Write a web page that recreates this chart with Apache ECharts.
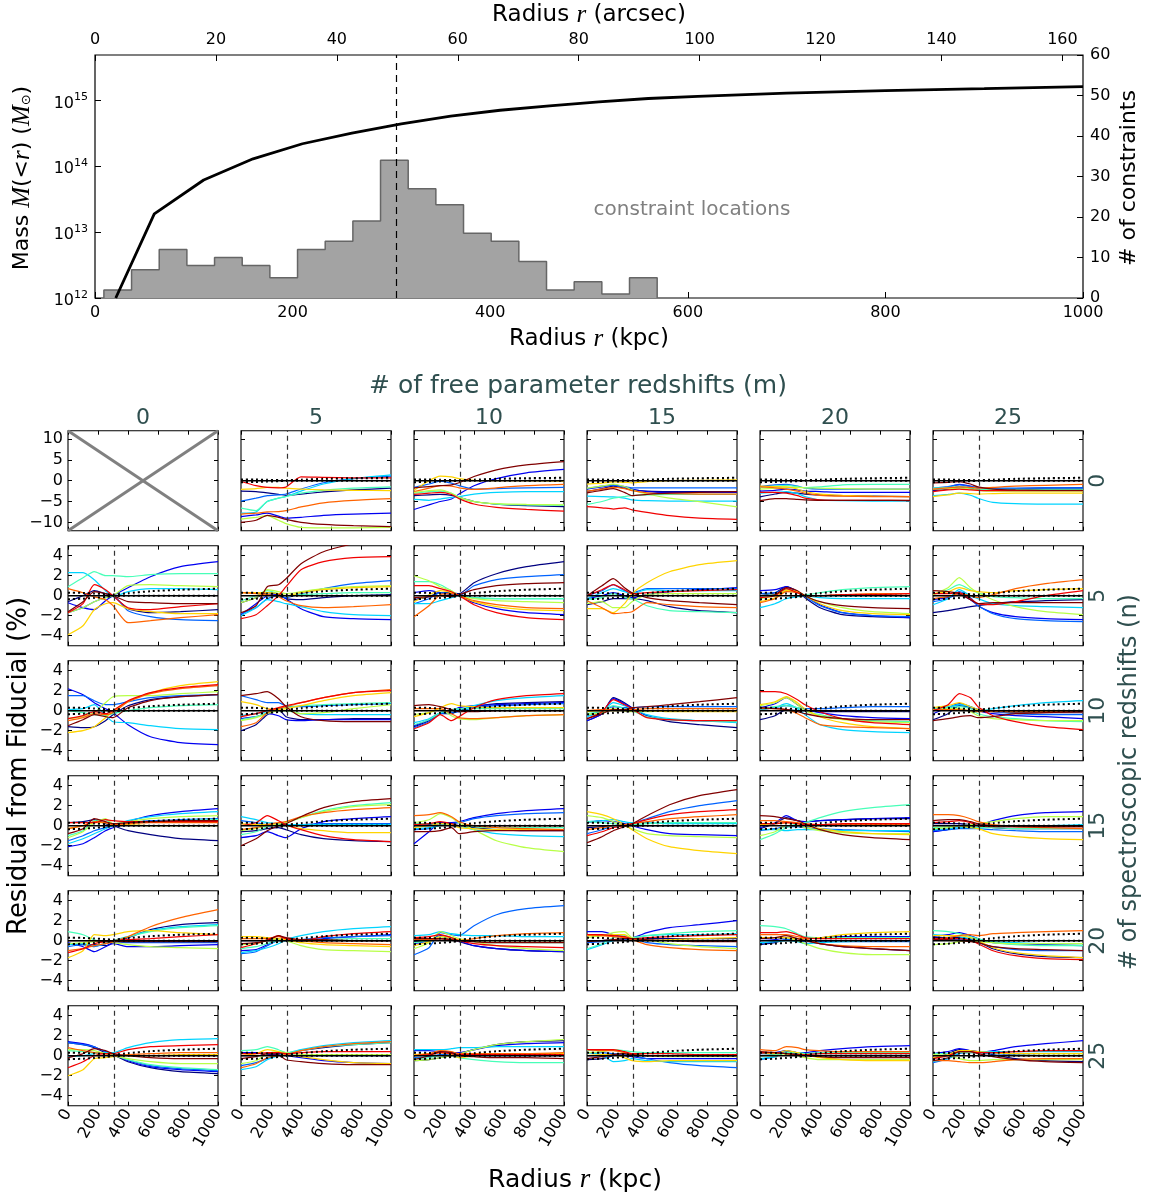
<!DOCTYPE html>
<html><head><meta charset="utf-8">
<script src="https://cdn.jsdelivr.net/npm/echarts@6/dist/echarts.min.js"></script>
<style>html,body{margin:0;padding:0;background:#fff}#c{width:1153px;height:1197px}</style>
</head><body><div id="c"></div>
<script>
// ---------------- Top panel data ----------------
const massR = [21, 60, 110, 160, 210, 260, 310, 360, 410, 460, 510, 560, 610, 700, 800, 900, 1000];
const massM = [1e12, 1.9e13, 6.2e13, 1.3e14, 2.2e14, 3.2e14, 4.4e14, 5.8e14, 7.1e14, 8.3e14, 9.5e14, 1.07e15, 1.15e15, 1.29e15, 1.41e15, 1.51e15, 1.62e15];
const histEdges = [9, 37, 65, 93, 121, 149, 177, 205, 233, 261, 289, 317, 345, 373, 401, 429, 457, 485, 513, 541, 569];
const histCounts = [2, 7, 12, 8, 10, 8, 5, 12, 14, 19, 34, 27, 23, 16, 14, 9, 2, 4, 1, 5];
const fiducialR = 305;          // kpc (50 arcsec)
const kpcPerArcsec = 6.12;
const massTicks = [1e12, 1e13, 1e14, 1e15];
const massTickExp = [12, 13, 14, 15];
const massMax = 4.9e15;

// ---------------- Grid panels data ----------------
const colM = [0, 5, 10, 15, 20, 25];   // free parameter redshifts
const rowN = [0, 5, 10, 15, 20, 25];   // spectroscopic redshifts
const rKpc = [0, 100, 175, 250, 300, 400, 550, 750, 1000];
const dotUpper = [0.3, 0.28, 0.22, 0.15, 0.12, 0.25, 0.45, 0.6, 0.7];
const dotLower = [-0.35, -0.3, -0.22, -0.12, -0.05, 0, 0, 0, 0];
const noFitR = [0, 1000];
const noFitA = [12, -12];
const noFitB = [-12, 12];
// line order: navy, blue, azure, cyan, aquamarine, green-yellow, yellow, orange, red, dark red
const res_n0_m5 = [
[-2.5,-2.6,-2.9,-3.3,-3.5,-3.2,-2.7,-2.2,-1.8],[-8.6,-8.2,-7.8,-8.5,-9.0,-8.8,-8.3,-8.0,-7.8],[-4.9,-4.2,-3.6,-3.4,-3.2,-2.0,-0.5,0.5,1.1],[-7.8,-7.5,-5.0,-4.2,-3.8,-2.5,-0.8,0.5,1.4],[-6.6,-7.2,-5.0,-4.2,-3.8,-3.0,-2.3,-1.8,-1.5],
[-9.2,-8.8,-8.4,-9.5,-10.3,-11.2,-11.3,-11.3,-11.2],[-2.1,-1.9,-1.6,-1.6,-1.8,-2.0,-2.2,-2.3,-2.4],[-8.0,-7.8,-7.5,-7.4,-7.2,-6.3,-5.3,-4.7,-4.3],[-0.2,-1.2,-1.6,-1.7,-1.5,0.9,0.8,0.7,0.7],[-10.0,-9.5,-8.3,-8.8,-9.3,-10.0,-10.5,-10.8,-11.0]];
const res_n0_m10 = [
[-3.6,-3.4,-3.3,-3.5,-4.0,-5.0,-5.6,-6.0,-6.2],[-6.9,-5.8,-5.0,-4.4,-3.2,-1.2,0.5,1.9,2.7],[-1.6,-0.8,-0.1,-0.6,-1.2,-2.0,-1.9,-1.7,-1.6],[-4.5,-4.7,-4.4,-4.0,-3.8,-3.2,-2.8,-2.6,-2.6],[-3.0,-2.6,-2.5,-3.0,-4.0,-5.0,-5.6,-5.8,-5.9],
[-2.8,-2.4,-2.2,-3.0,-4.0,-5.0,-5.5,-5.7,-5.8],[-2.3,0.0,1.1,0.9,0.5,0.1,0.0,0.0,-0.1],[-2.6,-1.8,-1.2,-1.3,-1.7,-2.1,-1.7,-1.2,-0.9],[-3.3,-3.0,-2.8,-3.3,-4.3,-5.6,-6.4,-6.9,-7.3],[-1.7,-1.4,-1.2,-1.0,-0.5,1.0,2.6,3.8,4.6]];
const res_n0_m15 = [
[-2.6,-1.9,-1.3,-1.8,-2.2,-2.5,-2.6,-2.6,-2.6],[-2.0,-1.5,-1.0,-1.5,-2.0,-2.6,-2.8,-2.8,-2.8],[-1.9,-1.3,-1.1,-1.4,-1.7,-1.7,-1.7,-1.7,-1.7],[-3.7,-3.8,-3.9,-4.2,-4.6,-4.8,-4.9,-4.9,-4.9],[-5.7,-5.0,-4.2,-3.8,-3.6,-3.4,-3.3,-3.3,-3.3],
[-1.8,-1.3,-0.8,-1.4,-2.2,-3.2,-4.2,-5.0,-6.3],[-0.8,-0.6,-0.3,-0.4,-0.5,-0.2,0.0,0.1,0.2],[-2.5,-2.0,-1.6,-1.9,-2.4,-2.9,-3.1,-3.2,-3.2],[-6.2,-6.5,-6.8,-6.5,-7.0,-7.6,-8.4,-9.0,-9.3],[-2.9,-2.3,-1.9,-2.8,-3.6,-3.3,-3.0,-2.8,-2.6]];
const res_n0_m20 = [
[-3.9,-3.2,-2.8,-3.0,-3.2,-3.4,-3.6,-3.7,-3.8],[-2.5,-2.3,-2.0,-2.2,-2.5,-2.6,-2.8,-2.8,-2.8],[-1.4,-1.0,-0.9,-1.3,-1.8,-2.0,-2.0,-2.0,-2.0],[-3.0,-2.8,-2.6,-3.1,-3.8,-4.6,-4.8,-4.9,-4.9],[-1.6,-1.3,-1.1,-1.4,-1.7,-1.5,-1.0,-0.9,-0.9],
[-2.0,-1.8,-1.6,-1.6,-1.7,-1.8,-1.9,-2.0,-2.0],[-1.3,-1.4,-1.5,-2.0,-2.6,-3.2,-3.5,-3.7,-3.8],[-1.5,-1.7,-2.0,-2.5,-3.0,-3.5,-3.7,-3.8,-3.8],[-2.8,-2.8,-3.0,-3.6,-4.2,-4.6,-4.7,-4.7,-4.8],[-4.8,-4.3,-4.3,-4.5,-4.6,-4.7,-4.7,-4.7,-4.7]];
const res_n0_m25 = [
[-2.4,-2.0,-1.5,-1.8,-2.0,-2.0,-1.9,-1.8,-1.7],[-2.2,-1.6,-0.9,-1.3,-1.8,-1.9,-1.9,-1.8,-1.8],[-1.8,-1.4,-1.0,-1.4,-1.7,-1.8,-1.8,-1.7,-1.7],[-3.6,-3.3,-3.0,-3.5,-4.2,-5.2,-5.5,-5.6,-5.6],[-1.8,-1.6,-1.4,-1.7,-2.0,-2.1,-2.1,-2.1,-2.1],
[-2.0,-1.9,-1.8,-2.0,-2.3,-2.5,-2.5,-2.5,-2.5],[-3.8,-3.4,-3.0,-3.1,-3.2,-3.1,-3.0,-3.0,-3.0],[-2.0,-1.7,-1.5,-1.6,-1.8,-1.6,-1.3,-1.1,-0.9],[-2.6,-2.2,-2.0,-2.2,-2.3,-2.4,-2.4,-2.4,-2.4],[-0.5,-0.4,-0.2,-0.8,-1.5,-2.0,-2.2,-2.3,-2.3]];
const res_n5_m0 = [
[-0.6,0.0,0.5,0.2,0.0,-1.3,-1.7,-1.6,-1.4],[-0.7,-1.2,-1.4,-0.5,0.0,0.8,1.9,2.9,3.4],[-1.7,-1.2,-0.6,-0.2,0.0,-1.5,-2.1,-2.4,-2.5],[2.3,2.3,1.6,0.5,-0.1,0.4,0.7,0.7,0.6],[0.9,1.8,2.4,2.0,2.0,1.9,2.1,2.2,2.2],
[-1.7,-1.2,-0.6,-0.2,0.0,1.0,1.1,1.0,0.9],[-3.9,-3.0,-1.4,-0.8,-0.7,-1.3,-1.6,-1.8,-1.8],[0.7,0.3,-0.1,-0.4,-1.0,-2.7,-2.5,-2.2,-1.9],[-1.7,-0.8,1.1,0.6,0.0,-1.2,-1.4,-1.1,-0.8],[-1.6,-0.6,0.4,0.2,0.0,-0.6,-0.7,-0.8,-0.8]];
const res_n5_m5 = [
[-0.7,-0.2,0.3,0.1,-0.3,-0.4,-0.2,0.0,0.1],[-1.9,-0.8,0.0,0.1,-0.3,-1.3,-2.1,-2.3,-2.4],[-1.8,-1.2,-0.3,0.0,-0.2,0.2,0.7,1.2,1.5],[-2.0,-1.2,-0.4,-0.6,-0.8,-1.1,-1.6,-1.9,-2.0],[-0.5,0.0,0.5,0.2,0.0,0.1,0.2,0.3,0.3],
[-0.7,-0.2,0.6,0.4,0.2,0.4,0.7,0.9,1.0],[0.3,0.3,0.3,0.2,0.0,0.3,0.6,0.8,0.9],[0.3,0.2,0.1,-0.1,-0.5,-1.0,-1.2,-1.1,-0.9],[-2.3,-1.9,-1.0,0.0,0.9,2.6,3.4,3.8,3.9],[-1.7,-1.0,0.9,1.1,1.7,3.2,4.4,5.2,5.6]];
const res_n5_m10 = [
[-0.4,-0.1,0.3,0.3,0.2,1.3,2.2,2.9,3.4],[0.3,0.5,0.3,0.1,0.0,-0.7,-1.3,-1.7,-1.9],[-0.8,-0.3,0.3,0.2,0.0,1.0,1.6,1.9,2.1],[-0.8,-0.8,-0.5,-0.2,0.0,-0.2,-0.3,-0.3,-0.3],[1.4,1.4,1.1,0.5,0.0,-0.2,-0.3,-0.3,-0.3],
[2.0,1.5,0.9,0.5,0.0,-0.3,-0.5,-0.6,-0.7],[-0.6,0.1,0.5,0.3,0.0,-0.6,-1.1,-1.4,-1.5],[-2.1,-1.0,0.1,0.2,0.0,-0.5,-0.9,-1.2,-1.3],[1.0,1.0,0.7,0.4,0.0,-0.9,-1.7,-2.2,-2.4],[-0.2,-0.1,0.0,-0.1,0.1,0.6,1.0,1.2,1.3]];
const res_n5_m15 = [
[-0.9,-0.6,-0.3,-0.3,-0.3,-0.5,-1.1,-1.5,-1.7],[-0.3,0.0,0.3,0.0,-0.2,0.1,0.4,0.6,0.8],[0.0,0.5,1.1,0.5,0.3,0.7,0.7,0.7,0.7],[-0.3,0.3,0.7,0.4,0.2,0.6,0.5,0.5,0.5],[-0.4,-0.2,0.2,-0.2,-0.3,-1.0,-1.5,-1.6,-1.7],
[-0.8,-0.6,-1.2,-1.2,-0.6,0.1,0.2,0.2,0.2],[-1.3,-1.3,-1.7,-0.8,0.2,1.3,2.4,3.1,3.5],[-0.5,-1.2,-1.8,-1.7,-1.6,-0.7,-0.9,-1.1,-1.2],[0.0,0.6,1.1,0.6,0.2,0.3,0.4,0.5,0.6],[0.0,1.0,1.7,0.8,0.3,-0.2,-0.5,-0.7,-0.9]];
const res_n5_m20 = [
[0.0,0.3,0.9,0.4,-0.2,-1.2,-1.9,-2.1,-2.2],[0.5,0.6,0.9,0.4,0.0,-0.9,-1.7,-2.0,-2.2],[0.2,0.3,0.7,0.3,-0.1,-1.0,-1.7,-2.0,-2.1],[-1.2,-0.8,-0.3,-0.1,0.0,-0.2,-0.3,-0.3,-0.3],[0.0,0.1,0.5,0.3,0.1,0.3,0.6,0.8,0.9],
[-0.3,0.0,0.6,0.4,0.0,-0.6,-1.2,-1.6,-1.8],[-0.6,-0.2,0.5,0.4,0.0,-0.8,-1.5,-1.8,-1.9],[-0.7,-0.3,0.4,0.3,0.0,0.0,0.1,0.2,0.2],[-0.2,0.0,0.7,0.3,0.0,0.0,0.1,0.1,0.2],[0.0,0.1,0.8,0.5,0.0,-0.6,-1.0,-1.2,-1.3]];
const res_n5_m25 = [
[-1.7,-1.5,-1.3,-1.1,-1.0,-0.8,-0.6,-0.5,-0.4],[-0.4,-0.2,0.1,-0.4,-1.0,-1.7,-2.1,-2.3,-2.4],[-0.6,-0.3,0.4,-0.2,-1.0,-1.8,-2.3,-2.5,-2.6],[-0.9,-0.3,0.6,0.0,-0.3,-0.8,-1.0,-1.1,-1.2],[0.1,0.6,1.1,0.6,0.3,-0.1,-0.2,-0.3,-0.3],
[0.1,0.8,1.8,0.8,0.3,-0.4,-1.1,-1.6,-1.9],[0.2,0.4,0.8,0.5,0.4,0.3,0.5,0.6,0.7],[-0.3,-0.1,0.2,0.0,-0.2,0.1,0.7,1.2,1.6],[0.2,0.2,0.3,-0.3,-0.8,-0.9,-0.6,0.0,0.5],[0.5,0.4,0.2,-0.4,-0.8,-0.7,-0.7,-0.7,-0.7]];
const res_n10_m0 = [
[-1.6,-1.7,-1.6,-1.0,-0.4,0.5,1.1,1.4,1.6],[2.2,1.6,0.8,0.2,-0.2,-1.4,-2.6,-3.2,-3.4],[1.5,1.5,1.0,0.6,0.6,0.9,1.3,1.5,1.6],[0.1,0.2,0.6,-0.5,-1.1,-1.2,-1.5,-1.8,-1.9],[0.0,-0.2,-0.4,-0.5,-0.3,0.0,0.3,0.5,0.6],
[-0.8,-0.6,-0.2,0.8,1.4,1.5,1.5,1.7,1.9],[-2.2,-2.0,-1.6,-0.7,0.0,0.9,1.8,2.5,2.9],[-1.0,-0.7,-0.3,-0.4,-0.2,0.9,1.7,2.2,2.5],[-0.8,-0.5,-0.1,-0.3,0.0,1.0,1.8,2.3,2.6],[-1.5,-0.9,-0.4,-0.6,-0.7,0.3,1.0,1.4,1.6]];
const res_n10_m5 = [
[-2.0,-1.4,-0.4,0.1,-0.6,-0.9,-0.9,-0.8,-0.8],[-0.8,-0.6,-0.3,-0.5,-0.9,-1.0,-0.9,-0.9,-0.9],[1.5,1.1,0.8,0.8,0.5,0.4,0.5,0.6,0.7],[-0.5,-0.3,-0.1,0.0,0.0,-0.3,-0.4,-0.4,-0.4],[-0.9,-0.6,-0.2,0.2,0.3,0.5,0.6,0.7,0.8],
[-1.0,-0.7,-0.3,0.0,0.0,-0.3,-0.2,0.2,0.6],[0.9,0.6,0.2,0.1,0.2,0.5,1.0,1.5,1.8],[-1.6,-1.2,-0.2,0.2,0.4,0.8,1.3,1.8,2.1],[-0.6,-0.3,0.0,0.3,0.5,0.8,1.3,1.8,2.0],[1.5,1.7,1.9,1.2,0.4,-0.6,-1.0,-1.1,-1.1]];
const res_n10_m10 = [
[-1.6,-1.0,-0.3,-0.3,0.0,0.4,0.7,0.8,0.9],[-1.5,-0.9,-0.2,0.0,0.3,0.5,0.6,0.7,0.8],[-1.7,-1.1,-0.3,-0.2,-0.1,0.3,0.5,0.6,0.7],[-1.2,-0.8,-0.2,0.0,0.1,0.5,1.0,1.3,1.5],[-1.4,-0.9,-0.2,0.1,0.2,0.2,0.2,0.2,0.2],
[-0.4,-0.2,0.1,-0.5,-0.8,-0.9,-0.7,-0.5,-0.4],[-0.6,-0.2,0.3,0.7,0.5,0.4,0.3,0.3,0.3],[0.2,0.2,0.2,-0.3,-0.7,-0.8,-0.7,-0.5,-0.4],[-1.8,-1.2,-0.4,-1.0,-0.6,0.3,1.1,1.5,1.7],[0.5,0.6,0.4,0.1,-0.1,-0.1,0.0,0.0,0.0]];
const res_n10_m15 = [
[-1.0,-0.3,1.3,0.8,0.3,-0.5,-1.1,-1.4,-1.7],[-1.0,-0.3,1.2,0.7,0.3,-0.5,-0.9,-1.0,-1.1],[-0.5,0.0,0.4,0.3,0.3,0.4,0.4,0.4,0.4],[-0.6,-0.1,0.8,0.5,0.2,-0.4,-0.8,-1.0,-1.2],[-0.3,0.0,0.5,0.2,0.0,-0.6,-0.9,-1.0,-1.1],
[-0.4,-0.2,0.2,0.0,-0.1,-0.1,0.0,0.0,0.0],[-0.1,0.0,0.0,0.0,0.0,0.0,-0.1,-0.1,-0.1],[0.0,0.1,0.1,0.1,0.1,0.2,0.2,0.2,0.2],[-0.8,-0.1,1.1,0.6,0.2,-0.7,-0.9,-1.0,-1.0],[-0.8,-0.3,0.1,0.1,0.3,0.4,0.6,0.9,1.3]];
const res_n10_m20 = [
[-0.9,-0.5,0.1,0.0,0.0,-0.1,-0.1,-0.1,-0.1],[0.3,0.7,1.3,0.6,0.1,-0.2,-0.5,-0.7,-0.8],[0.1,0.3,0.5,0.3,0.2,0.2,0.3,0.4,0.4],[0.1,0.3,0.7,0.2,-0.4,-1.4,-1.9,-2.1,-2.2],[0.2,0.4,0.5,0.3,0.0,-0.4,-0.8,-1.0,-1.1],
[0.5,0.8,1.3,0.6,0.0,-0.5,-0.9,-1.1,-1.2],[0.6,0.9,1.4,0.8,0.2,-0.6,-1.2,-1.6,-1.8],[0.2,0.2,0.1,-0.3,-0.7,-1.4,-1.6,-1.7,-1.8],[1.9,1.9,1.7,1.1,0.6,-0.1,-0.8,-1.2,-1.4],[0.3,0.2,0.1,-0.1,-0.3,-0.6,-0.8,-0.9,-0.9]];
const res_n10_m25 = [
[-0.9,-0.3,0.5,0.3,0.1,-0.1,-0.2,-0.2,-0.2],[-0.3,0.3,0.7,0.4,0.0,-0.3,-0.5,-0.6,-0.8],[0.0,0.2,0.6,0.4,0.1,-0.1,-0.3,-0.4,-0.4],[0.2,0.4,0.6,0.4,0.0,0.2,0.5,0.8,1.0],[0.1,0.3,0.4,0.2,-0.3,-0.6,-0.8,-1.0,-1.1],
[0.1,0.2,0.2,-0.1,-0.5,-0.8,-0.9,-1.0,-1.0],[0.3,0.5,0.8,0.4,0.1,0.0,-0.1,-0.1,-0.1],[0.1,0.1,0.1,0.0,-0.1,-0.1,-0.1,-0.1,-0.1],[0.0,0.6,1.7,1.3,0.4,-0.5,-1.1,-1.6,-1.9],[-1.0,-0.8,-0.6,-0.5,-0.7,-0.6,-0.3,-0.2,-0.1]];
const res_n15_m0 = [
[0.3,0.4,0.6,0.2,0.0,-0.5,-0.9,-1.3,-1.5],[-2.1,-1.8,-1.2,-0.5,-0.2,0.4,1.0,1.4,1.7],[-1.5,-1.0,-0.5,-0.2,0.0,0.3,0.5,0.6,0.7],[-1.8,-1.3,-0.8,-0.3,0.0,0.5,0.9,1.2,1.4],[-1.0,-0.5,0.5,0.6,0.1,0.2,0.4,0.5,0.6],
[-1.2,-0.6,0.3,0.7,0.2,0.4,0.7,0.9,1.0],[-0.3,0.0,0.3,0.3,0.1,0.1,0.0,0.0,0.0],[-0.3,0.0,0.4,0.3,0.1,0.2,0.3,0.3,0.3],[0.3,0.3,0.3,0.6,0.5,0.4,0.4,0.4,0.4],[-0.8,-0.3,0.7,0.4,0.2,0.3,0.4,0.5,0.5]];
const res_n15_m5 = [
[-0.6,-0.5,-0.3,-0.2,-0.4,-0.9,-1.3,-1.5,-1.6],[-1.2,-1.0,-0.6,-1.0,-1.2,-0.3,0.4,0.7,0.9],[0.5,0.3,0.1,0.0,0.0,0.1,0.2,0.2,0.2],[0.9,0.6,0.3,0.2,0.1,0.1,0.1,0.1,0.1],[-0.9,-0.6,-0.1,0.1,0.3,0.8,1.5,2.0,2.3],
[-0.5,-0.3,0.0,0.2,0.3,0.8,1.4,1.9,2.1],[0.2,0.1,0.1,0.0,0.0,-0.3,-0.5,-0.7,-0.7],[-0.4,-0.2,0.1,0.3,0.4,0.9,1.3,1.6,1.8],[0.0,0.3,1.0,0.5,0.1,-0.4,-1.0,-1.4,-1.6],[-2.0,-1.3,-0.5,0.0,0.2,0.9,1.8,2.4,2.7]];
const res_n15_m10 = [
[0.0,0.1,0.3,0.2,0.0,-0.2,-0.4,-0.5,-0.5],[-1.8,-0.6,0.3,0.3,0.4,0.8,1.2,1.5,1.7],[-0.4,-0.3,0.1,0.2,0.3,0.7,1.0,1.2,1.3],[-0.3,-0.2,0.0,0.1,0.0,-0.4,-0.8,-1.0,-1.1],[0.2,0.2,0.2,0.1,0.0,-0.1,-0.2,-0.2,-0.2],
[0.3,0.6,1.2,0.8,0.3,-0.4,-1.5,-2.2,-2.6],[-0.2,0.0,0.2,0.1,-0.2,-0.3,-0.4,-0.4,-0.4],[1.0,1.1,1.3,0.9,0.4,0.0,-0.2,-0.3,-0.4],[0.1,0.2,0.4,0.2,0.0,0.0,0.0,0.0,0.0],[-0.6,-0.6,-0.5,-0.2,-0.8,-0.6,-0.5,-0.5,-0.5]];
const res_n15_m15 = [
[-0.2,-0.1,0.0,0.0,0.0,0.0,0.0,0.0,0.0],[0.3,0.5,0.4,0.2,0.0,-0.4,-0.8,-0.9,-1.0],[-0.8,-0.4,0.0,0.1,0.2,0.7,1.4,2.0,2.5],[0.4,0.5,0.6,0.4,0.3,0.3,0.2,0.2,0.2],[0.4,0.3,0.2,0.1,0.1,0.2,0.3,0.3,0.3],
[1.0,0.8,0.4,0.0,-0.3,-0.8,-1.0,-1.1,-1.2],[1.4,1.1,0.7,0.1,-0.4,-1.3,-2.1,-2.5,-2.8],[-0.4,-0.2,0.0,0.1,0.2,0.4,0.7,0.9,1.1],[-1.0,-0.6,-0.2,0.0,0.2,0.6,1.1,1.4,1.6],[-1.7,-1.1,-0.5,-0.1,0.2,1.0,2.1,3.0,3.6]];
const res_n15_m20 = [
[-0.3,0.2,0.8,0.5,0.4,0.5,0.6,0.7,0.7],[-0.2,0.3,1.0,0.5,0.4,0.5,0.6,0.7,0.8],[-0.5,-0.3,-0.1,-0.1,-0.2,-0.3,-0.4,-0.5,-0.6],[-0.4,-0.4,-0.5,-0.4,-0.4,-0.4,-0.5,-0.5,-0.5],[-1.4,-0.8,-0.2,0.2,0.3,0.8,1.4,1.8,2.1],
[-1.0,-0.6,0.0,0.0,-0.2,-0.5,-0.7,-0.8,-0.8],[0.1,0.2,0.3,0.2,0.0,-0.3,-0.6,-0.8,-0.9],[0.5,0.5,0.4,0.3,0.2,0.1,0.1,0.1,0.1],[0.2,0.2,0.3,0.2,0.1,0.1,0.2,0.2,0.2],[1.0,0.9,0.7,0.5,0.2,-0.4,-0.9,-1.2,-1.4]];
const res_n15_m25 = [
[0.2,0.2,0.2,0.1,0.0,-0.2,-0.3,-0.3,-0.3],[-0.6,-0.4,0.0,0.1,0.1,0.5,1.0,1.3,1.4],[-0.5,-0.4,-0.3,-0.3,-0.3,-0.4,-0.5,-0.6,-0.6],[-0.4,-0.3,-0.2,-0.2,-0.2,-0.1,0.0,0.0,0.1],[-0.2,-0.1,0.0,-0.1,-0.2,-0.2,-0.3,-0.3,-0.3],
[-0.3,-0.2,0.0,0.1,0.2,0.4,0.7,0.9,0.9],[0.0,0.0,0.0,-0.2,-0.3,-0.8,-1.1,-1.3,-1.4],[1.1,1.1,1.0,0.7,0.4,0.1,-0.1,-0.2,-0.3],[0.3,0.4,0.5,0.3,0.0,-0.1,-0.1,-0.1,-0.1],[0.5,0.6,0.6,0.4,0.2,0.0,-0.1,-0.1,-0.1]];
const res_n20_m0 = [
[-0.3,-0.4,-0.4,-0.5,-0.2,0.3,1.1,1.6,1.8],[-0.2,-0.6,-1.1,-0.6,-0.3,-0.6,-0.6,-0.5,-0.4],[-0.6,-0.4,-0.6,-0.3,-0.1,-0.2,-0.2,-0.2,-0.2],[-0.4,-0.3,-0.5,-0.3,0.0,0.4,1.0,1.4,1.6],[0.9,0.6,0.1,-0.1,0.0,0.4,0.9,1.3,1.5],
[-0.3,-0.2,-0.1,-0.1,-0.2,-0.4,-0.6,-0.7,-0.8],[-1.7,-1.0,0.6,0.5,0.6,0.9,1.0,0.8,0.6],[-1.0,-0.8,-0.5,-0.3,-0.1,0.4,1.4,2.3,3.1],[-1.2,-0.8,-0.3,-0.1,0.0,0.1,0.2,0.4,0.6],[0.0,0.0,0.0,-0.1,-0.1,-0.1,-0.1,-0.1,-0.1]];
const res_n20_m5 = [
[0.0,0.0,0.0,0.1,0.0,0.0,0.0,0.0,0.0],[-1.0,-0.9,-0.4,0.1,0.0,-0.1,0.2,0.4,0.6],[-1.3,-1.1,-0.5,0.0,0.0,0.1,0.3,0.4,0.5],[-1.2,-1.0,-0.7,-0.3,0.1,0.5,0.9,1.2,1.4],[-0.8,-0.6,-0.3,0.0,0.0,0.0,0.1,0.2,0.2],
[-0.4,-0.3,0.0,0.1,0.0,-0.5,-0.9,-1.0,-1.1],[0.4,0.4,0.3,0.2,0.1,-0.2,-0.4,-0.5,-0.6],[0.2,0.2,0.2,0.4,0.2,0.0,-0.2,-0.3,-0.4],[-0.7,-0.3,0.1,0.5,0.2,0.0,0.4,0.7,0.9],[-0.3,-0.2,0.0,0.5,0.3,0.1,0.1,0.0,0.0]];
const res_n20_m10 = [
[-0.1,0.0,0.2,0.1,-0.1,-0.5,-0.8,-1.0,-1.1],[-0.3,0.0,0.5,0.3,0.0,-0.5,-0.8,-1.0,-1.1],[-1.4,-0.7,0.8,0.6,0.5,1.5,2.6,3.2,3.5],[0.5,0.6,0.9,0.7,0.6,0.5,0.5,0.4,0.4],[-0.2,0.0,0.4,0.2,0.0,-0.1,-0.2,-0.2,-0.2],
[-0.8,-0.2,0.9,0.5,0.2,-0.1,-0.5,-0.8,-1.0],[-0.5,-0.1,0.4,0.3,0.1,0.0,0.0,0.0,0.0],[0.1,0.1,0.2,0.1,0.0,0.2,0.5,0.7,0.8],[0.3,0.4,0.6,0.3,0.0,-0.3,-0.5,-0.6,-0.7],[0.2,0.2,0.2,0.1,0.0,-0.1,-0.2,-0.2,-0.2]];
const res_n20_m15 = [
[0.0,0.0,0.1,0.1,0.1,0.2,0.2,0.2,0.2],[0.9,0.9,0.6,0.4,0.3,0.8,1.3,1.6,2.0],[-0.2,-0.1,0.0,0.1,0.1,-0.2,-0.4,-0.5,-0.6],[-0.9,-0.4,0.0,0.3,0.3,0.5,0.6,0.6,0.7],[-0.8,-0.3,0.3,0.5,0.3,0.5,0.7,0.9,1.0],
[0.3,0.5,0.8,0.9,0.3,0.1,-0.3,-0.6,-0.8],[0.5,0.5,0.6,0.6,0.2,0.0,0.1,0.2,0.3],[0.6,0.5,0.4,0.3,0.1,-0.4,-0.7,-0.9,-1.0],[0.6,0.6,0.5,0.4,0.2,0.3,0.4,0.5,0.6],[-0.1,0.0,0.1,0.2,0.2,0.1,0.0,-0.1,-0.1]];
const res_n20_m20 = [
[-0.4,-0.2,0.1,0.0,0.0,-0.3,-0.6,-0.8,-1.0],[0.0,0.1,0.3,0.2,0.2,0.3,0.4,0.4,0.4],[-0.3,-0.1,0.1,0.0,-0.1,-0.1,-0.1,-0.1,-0.1],[-0.2,-0.1,0.0,-0.1,-0.3,-0.2,-0.1,0.0,0.0],[1.5,1.4,1.2,0.7,0.4,0.3,0.3,0.3,0.3],
[0.3,0.3,0.3,0.0,-0.3,-0.8,-1.2,-1.4,-1.4],[0.3,0.3,0.3,0.2,0.2,0.3,0.6,0.8,0.9],[0.6,0.6,0.6,0.4,0.2,-0.3,-0.5,-0.6,-0.6],[0.8,0.8,0.9,0.6,0.3,0.2,0.2,0.2,0.2],[0.2,0.3,0.5,0.2,0.0,-0.3,-0.6,-0.8,-1.0]];
const res_n20_m25 = [
[0.3,0.3,0.3,0.1,-0.1,-0.8,-1.3,-1.6,-1.7],[0.4,0.6,0.8,0.5,0.2,-0.2,-0.3,-0.4,-0.5],[0.0,0.1,0.1,0.0,-0.2,-0.6,-0.9,-1.0,-1.0],[0.6,0.5,0.4,0.2,0.1,-0.1,-0.2,-0.3,-0.3],[1.0,0.9,0.7,0.4,0.2,-0.2,-0.4,-0.5,-0.5],
[-0.4,-0.3,-0.1,0.0,-0.1,-0.2,-0.3,-0.3,-0.3],[0.5,0.5,0.5,0.3,0.0,-0.7,-1.2,-1.5,-1.7],[0.1,0.3,0.5,0.6,0.5,0.7,0.8,0.9,1.0],[0.2,0.2,0.2,0.0,-0.3,-1.0,-1.5,-1.8,-1.9],[0.1,0.1,0.0,-0.1,-0.2,-0.6,-0.8,-0.9,-1.0]];
const res_n25_m0 = [
[1.3,1.1,0.8,0.3,0.1,-0.6,-1.2,-1.6,-1.8],[1.4,1.2,0.9,0.4,0.2,-0.5,-1.1,-1.4,-1.6],[1.3,1.1,0.9,0.4,0.2,-0.4,-1.0,-1.3,-1.5],[-0.1,0.0,0.2,0.3,0.3,0.8,1.3,1.6,1.7],[0.5,0.4,0.3,0.2,0.1,-0.4,-0.9,-1.2,-1.4],
[0.6,0.6,0.5,0.2,0.0,-0.3,-0.6,-0.8,-0.8],[-2.0,-1.4,-0.3,-0.2,-0.1,0.0,0.0,0.1,0.1],[0.8,0.5,0.3,0.2,0.0,0.1,0.2,0.3,0.3],[-1.2,-0.6,0.0,0.2,0.2,0.6,0.9,1.0,1.1],[-0.2,0.2,0.7,0.5,0.2,0.0,-0.2,-0.3,-0.3]];
const res_n25_m5 = [
[0.0,0.0,0.1,0.2,0.2,0.5,0.8,1.1,1.3],[0.3,0.3,0.1,0.1,0.0,-0.2,-0.5,-0.7,-0.8],[-1.0,-0.7,-0.3,0.0,0.1,0.0,0.0,0.0,0.0],[-1.4,-1.1,-0.4,0.0,0.2,0.6,1.0,1.3,1.5],[0.5,0.6,0.9,0.6,0.3,0.5,0.9,1.1,1.3],
[-0.8,-0.5,0.2,0.4,0.3,0.1,0.1,0.1,0.1],[0.0,0.2,0.6,0.4,0.1,-0.1,-0.4,-0.7,-0.8],[-1.2,-0.8,-0.2,0.0,0.1,0.5,0.9,1.2,1.4],[0.2,0.2,0.3,0.3,0.2,0.3,0.4,0.4,0.4],[-0.3,-0.1,0.2,0.1,-0.4,-0.6,-0.8,-0.9,-0.9]];
const res_n25_m10 = [
[-0.5,-0.4,-0.2,0.0,0.2,0.6,1.1,1.4,1.5],[0.5,0.5,0.4,0.3,0.3,0.6,1.0,1.2,1.3],[-0.2,-0.1,0.1,0.1,0.0,0.0,0.0,0.0,0.0],[0.6,0.6,0.6,0.7,0.8,0.8,0.9,0.9,0.9],[-0.3,-0.2,0.0,0.0,-0.2,-0.4,-0.6,-0.7,-0.7],
[-0.5,-0.4,-0.2,0.0,0.2,0.6,1.1,1.4,1.6],[0.1,0.2,0.3,0.1,-0.2,0.0,0.1,0.2,0.2],[0.0,0.2,0.5,0.4,0.2,0.2,0.2,0.2,0.3],[0.0,0.1,0.3,0.2,0.1,0.1,0.1,0.1,0.1],[-0.4,0.0,0.4,0.3,0.0,-0.1,-0.2,-0.2,-0.3]];
const res_n25_m15 = [
[-0.4,-0.3,0.0,0.2,0.1,0.0,0.0,0.0,0.0],[0.0,0.0,0.1,0.0,-0.1,-0.3,-0.3,-0.3,-0.3],[0.3,0.3,0.2,0.1,0.0,-0.3,-0.7,-1.0,-1.2],[0.3,0.1,-0.6,-0.5,-0.3,-0.5,-0.6,-0.6,-0.6],[0.5,0.6,0.6,0.5,0.4,0.3,0.3,0.3,0.3],
[0.3,0.4,0.6,0.3,0.1,0.0,-0.1,-0.1,-0.1],[0.0,0.1,0.1,-0.2,-0.5,-0.6,-0.5,-0.5,-0.5],[0.6,0.5,0.5,0.3,0.1,0.0,0.0,0.0,0.0],[0.6,0.6,0.6,0.4,0.2,0.2,0.2,0.1,0.1],[-0.3,-0.1,0.1,0.2,0.1,0.0,0.0,0.0,0.0]];
const res_n25_m20 = [
[0.0,0.1,0.3,0.2,0.1,0.0,0.0,0.0,0.0],[0.2,0.3,0.5,0.3,0.3,0.5,0.7,0.9,1.0],[-0.4,-0.1,0.4,0.3,0.2,0.3,0.4,0.4,0.4],[-0.3,-0.1,0.3,0.3,0.2,0.2,0.2,0.2,0.2],[0.0,0.1,0.3,0.3,0.2,0.3,0.3,0.3,0.3],
[0.0,0.0,0.1,0.0,-0.2,-0.4,-0.4,-0.4,-0.4],[0.3,0.2,0.5,0.3,0.1,-0.2,-0.4,-0.5,-0.5],[0.6,0.5,0.9,0.8,0.6,0.5,0.4,0.4,0.4],[0.3,0.3,0.2,0.1,0.1,0.2,0.2,0.2,0.2],[0.4,0.3,0.2,0.1,0.0,-0.1,-0.2,-0.2,-0.2]];
const res_n25_m25 = [
[-0.3,0.2,0.6,0.5,0.4,0.1,-0.3,-0.5,-0.6],[0.2,0.4,0.7,0.5,0.3,0.5,0.9,1.2,1.5],[-0.7,-0.3,0.2,0.3,0.3,0.2,0.1,0.0,0.0],[-0.6,-0.3,0.3,0.4,0.4,0.4,0.4,0.4,0.4],[0.2,0.2,0.3,0.3,0.3,0.3,0.2,0.2,0.2],
[0.1,0.0,-0.3,-0.5,-0.5,-0.4,-0.4,-0.4,-0.4],[-0.2,0.1,0.5,0.5,0.4,0.3,0.2,0.2,0.2],[-0.5,-0.5,-0.6,-0.7,-0.7,-0.6,-0.4,-0.3,-0.3],[-0.3,0.0,0.4,0.4,0.3,0.3,0.4,0.5,0.5],[-0.5,-0.2,0.4,0.4,0.2,-0.1,-0.4,-0.6,-0.7]];

const panelData = [
  [null, res_n0_m5, res_n0_m10, res_n0_m15, res_n0_m20, res_n0_m25],
  [res_n5_m0, res_n5_m5, res_n5_m10, res_n5_m15, res_n5_m20, res_n5_m25],
  [res_n10_m0, res_n10_m5, res_n10_m10, res_n10_m15, res_n10_m20, res_n10_m25],
  [res_n15_m0, res_n15_m5, res_n15_m10, res_n15_m15, res_n15_m20, res_n15_m25],
  [res_n20_m0, res_n20_m5, res_n20_m10, res_n20_m15, res_n20_m20, res_n20_m25],
  [res_n25_m0, res_n25_m5, res_n25_m10, res_n25_m15, res_n25_m20, res_n25_m25]
];
const jetColors = ['#000080','#0000f1','#0063ff','#00d4ff','#47ffb8','#b8ff47','#ffd400','#ff6300','#f10000','#800000'];

// ---------------- Build chart ----------------
const FONT = 'DejaVu Sans';
const SLATE = '#2f4f4f';
const grid = [], xAxis = [], yAxis = [], series = [];
const tickStyle = {lineStyle: {color: '#000', width: 1}};
const minus = v => (v < 0 ? '\u2212' + Math.abs(v) : String(v));
const plain = v => String(v);
const noLine = {show: false, onZero: false};

// top panel
grid.push({left: 95, top: 55, width: 988, height: 243, show: true, borderColor: '#000', borderWidth: 1.2});
xAxis.push({gridIndex: 0, type: 'value', min: 0, max: 1000, interval: 200, position: 'bottom',
  axisLine: noLine, axisTick: Object.assign({inside: true, length: 6}, tickStyle),
  axisLabel: {fontSize: 16, color: '#000', fontFamily: FONT, margin: 7, formatter: plain}, splitLine: {show: false}});
xAxis.push({gridIndex: 0, type: 'value', min: 0, max: 1000 / kpcPerArcsec, interval: 20, position: 'top',
  axisLine: noLine, axisTick: Object.assign({inside: true, length: 6}, tickStyle),
  axisLabel: {fontSize: 16, color: '#000', fontFamily: FONT, margin: 7, showMaxLabel: false, formatter: plain}, splitLine: {show: false}});
yAxis.push({gridIndex: 0, type: 'log', logBase: 10, min: 1e12, max: massMax, position: 'left',
  axisLine: noLine, axisTick: {show: false},
  axisLabel: {customValues: massTicks, color: '#000', margin: 7,
    formatter: v => '{b|10}{s|' + Math.round(Math.log10(v)) + '}',
    rich: {b: {fontSize: 16, fontFamily: FONT, color: '#000', padding: [6, 0, 0, 0]}, s: {fontSize: 11, fontFamily: FONT, color: '#000', padding: [0, 0, 6, 0]}}},
  splitLine: {show: false}, minorTick: {show: false}});
yAxis.push({gridIndex: 0, type: 'value', min: 0, max: 60, interval: 10, position: 'right',
  axisLine: noLine, axisTick: Object.assign({inside: true, length: 6}, tickStyle),
  axisLabel: {fontSize: 16, color: '#000', fontFamily: FONT, margin: 7}, splitLine: {show: false}});
// tick-only helper axis for the decades of the log mass axis
yAxis.push({gridIndex: 0, type: 'value', min: 12, max: Math.log10(massMax), position: 'left',
  axisLine: noLine, axisTick: Object.assign({inside: true, length: 6, customValues: massTickExp}, tickStyle),
  axisLabel: {show: false}, splitLine: {show: false}});

const histPts = [[histEdges[0], 0]];
histCounts.forEach((c, i) => histPts.push([histEdges[i], c]));
histPts.push([histEdges[histEdges.length - 1], histCounts[histCounts.length - 1]]);
histPts.push([histEdges[histEdges.length - 1], 0]);
series.push({type: 'line', xAxisIndex: 0, yAxisIndex: 1, data: histPts, step: 'end', symbol: 'none', silent: true,
  lineStyle: {color: '#666', width: 1.5}, areaStyle: {color: '#a3a3a3', opacity: 1}, z: 1});
series.push({type: 'line', xAxisIndex: 0, yAxisIndex: 0, data: massR.map((r, i) => [r, massM[i]]), symbol: 'none', silent: true,
  lineStyle: {color: '#000', width: 2.8}, z: 3,
  markLine: {symbol: 'none', silent: true, label: {show: false}, lineStyle: {color: '#000', type: [7, 5], width: 1.2},
    data: [{xAxis: fiducialR}]}});

// grid panels
rowN.forEach((n, ri) => {
  colM.forEach((m, ci) => {
    const gi = grid.length;
    const left = 68 + ci * 173, top = 430.7 + ri * 115;
    grid.push({left, top, width: 150, height: 100, show: true, borderColor: '#000', borderWidth: 1.1});
    const big = ri === 0;
    const yMin = big ? -12 : -5, yMax = big ? 12 : 5;
    const yTicks = big ? [-10, -5, 0, 5, 10] : [-4, -2, 0, 2, 4];
    const xi = xAxis.length, yi = yAxis.length;
    xAxis.push({gridIndex: gi, type: 'value', min: 0, max: 1000, interval: 200, position: 'bottom',
      axisLine: noLine, axisTick: Object.assign({inside: true, length: 4}, tickStyle),
      axisLabel: {show: ri === 5, rotate: 60, fontSize: 16, color: '#000', fontFamily: FONT, margin: 5, formatter: plain}, splitLine: {show: false}});
    xAxis.push({gridIndex: gi, type: 'value', min: 0, max: 1000, interval: 200, position: 'top',
      axisLine: noLine, axisTick: Object.assign({inside: true, length: 4}, tickStyle),
      axisLabel: {show: false}, splitLine: {show: false}});
    yAxis.push({gridIndex: gi, type: 'value', min: yMin, max: yMax, position: 'left',
      axisLine: noLine, axisTick: Object.assign({inside: true, length: 4, customValues: yTicks}, tickStyle),
      axisLabel: {show: ci === 0, customValues: yTicks, formatter: minus, fontSize: 16, color: '#000', fontFamily: FONT, margin: 5},
      splitLine: {show: false}});
    yAxis.push({gridIndex: gi, type: 'value', min: yMin, max: yMax, position: 'right',
      axisLine: noLine, axisTick: Object.assign({inside: true, length: 4, customValues: yTicks}, tickStyle),
      axisLabel: {show: false}, splitLine: {show: false}});

    const pd = panelData[ri][ci];
    if (!pd) {
      [noFitA, noFitB].forEach(arr => series.push({type: 'line', xAxisIndex: xi, yAxisIndex: yi,
        data: noFitR.map((r, k) => [r, arr[k]]), symbol: 'none', silent: true,
        lineStyle: {color: '#808080', width: 3}, z: 2}));
      return;
    }
    pd.forEach((vals, li) => series.push({type: 'line', xAxisIndex: xi, yAxisIndex: yi,
      data: rKpc.map((r, k) => [r, vals[k]]), symbol: 'none', silent: true, smooth: 0.2,
      lineStyle: {color: jetColors[li], width: 1.2}, z: 2}));
    series.push({type: 'line', xAxisIndex: xi, yAxisIndex: yi, data: [[0, 0], [1000, 0]], symbol: 'none', silent: true,
      lineStyle: {color: '#000', width: 1.4}, z: 3,
      markLine: {symbol: 'none', silent: true, label: {show: false}, lineStyle: {color: '#333', type: [5, 4], width: 1.2},
        data: [{xAxis: fiducialR}]}});
    [dotUpper, dotLower].forEach(arr => series.push({type: 'line', xAxisIndex: xi, yAxisIndex: yi,
      data: rKpc.map((r, k) => [r, arr[k]]), symbol: 'none', silent: true, smooth: 0.2,
      lineStyle: {color: '#000', width: 2, type: [2, 3]}, z: 4}));
  });
});

// texts
const italic = {fontStyle: 'italic', fontFamily: 'Liberation Serif', fontSize: 25};
const graphic = [
  {type: 'text', x: 589, y: 15, style: {text: 'Radius {i|r} (arcsec)', rich: {i: italic}, fontSize: 23, fontFamily: FONT, fill: '#000', align: 'center', verticalAlign: 'middle'}},
  {type: 'text', x: 589, y: 339, style: {text: 'Radius {i|r} (kpc)', rich: {i: italic}, fontSize: 23, fontFamily: FONT, fill: '#000', align: 'center', verticalAlign: 'middle'}},
  {type: 'text', x: 22, y: 178, rotation: Math.PI / 2, style: {text: 'Mass {i|M}(<{i|r}) ({i|M}{sub|\u2299})', rich: {i: italic, sub: {fontSize: 13, fontFamily: FONT, padding: [10, 0, 0, 0]}}, fontSize: 22, fontFamily: FONT, fill: '#000', align: 'center', verticalAlign: 'middle'}},
  {type: 'text', x: 1129, y: 178, rotation: Math.PI / 2, style: {text: '# of constraints', fontSize: 22, fontFamily: FONT, fill: '#000', align: 'center', verticalAlign: 'middle'}},
  {type: 'text', x: 692, y: 210, style: {text: 'constraint locations', fontSize: 20, fontFamily: FONT, fill: '#808080', align: 'center', verticalAlign: 'middle'}},
  {type: 'text', x: 578, y: 386, style: {text: '# of free parameter redshifts (m)', fontSize: 25, fontFamily: FONT, fill: SLATE, align: 'center', verticalAlign: 'middle'}},
  {type: 'text', x: 1130, y: 782, rotation: Math.PI / 2, style: {text: '# of spectroscopic redshifts (n)', fontSize: 24, fontFamily: FONT, fill: SLATE, align: 'center', verticalAlign: 'middle'}},
  {type: 'text', x: 19, y: 766, rotation: Math.PI / 2, style: {text: 'Residual from Fiducial (%)', fontSize: 26, fontFamily: FONT, fill: '#000', align: 'center', verticalAlign: 'middle'}},
  {type: 'text', x: 575, y: 1180, style: {text: 'Radius {i|r} (kpc)', rich: {i: Object.assign({}, italic, {fontSize: 27})}, fontSize: 25, fontFamily: FONT, fill: '#000', align: 'center', verticalAlign: 'middle'}}
];
colM.forEach((m, ci) => graphic.push({type: 'text', x: 68 + ci * 173 + 75, y: 418,
  style: {text: String(m), fontSize: 22, fontFamily: FONT, fill: SLATE, align: 'center', verticalAlign: 'middle'}}));
rowN.forEach((n, ri) => graphic.push({type: 'text', x: 1098, y: 430.7 + ri * 115 + 50, rotation: Math.PI / 2,
  style: {text: String(n), fontSize: 22, fontFamily: FONT, fill: SLATE, align: 'center', verticalAlign: 'middle'}}));

const chart = echarts.init(document.getElementById('c'), null, {renderer: 'canvas'});
chart.setOption({animation: false, backgroundColor: '#fff', textStyle: {fontFamily: FONT},
  grid, xAxis, yAxis, series, graphic});
</script></body></html>
